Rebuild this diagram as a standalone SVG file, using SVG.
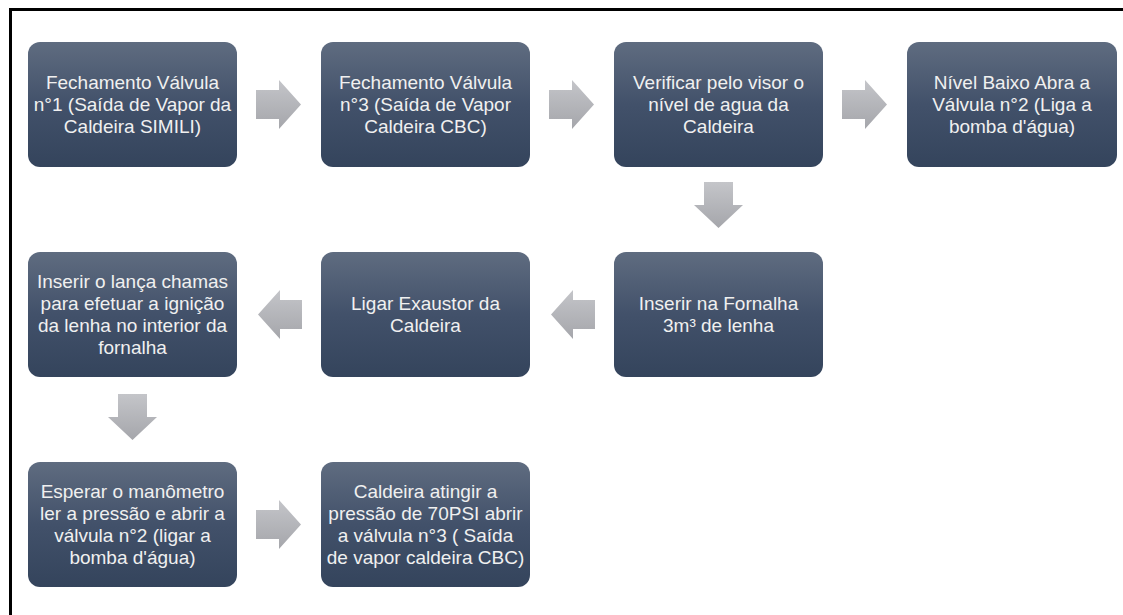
<svg xmlns="http://www.w3.org/2000/svg" width="1123" height="615" viewBox="0 0 1123 615">
<defs>
<linearGradient id="boxg" x1="0" y1="0" x2="0" y2="1">
<stop offset="0" stop-color="#5f6c80"/>
<stop offset="0.5" stop-color="#42516a"/>
<stop offset="1" stop-color="#34445c"/>
</linearGradient>
<linearGradient id="arrg" x1="0" y1="0" x2="0" y2="1">
<stop offset="0" stop-color="#c4c5c9"/>
<stop offset="1" stop-color="#a5a6ab"/>
</linearGradient>
</defs>
<style>
.box{fill:url(#boxg);}
.arr{fill:url(#arrg);}
text{font-family:"Liberation Sans",Arial,sans-serif;font-size:19px;fill:#f0f0f0;text-anchor:middle;}
</style>
<rect x="0" y="0" width="1123" height="615" fill="#ffffff"/>
<path d="M10.5,615 V9.5 H1123" fill="none" stroke="#000000" stroke-width="3"/>

<g id="n1"><rect class="box" x="28" y="42" width="209" height="125" rx="12"/>
<text x="132.5" y="89">Fechamento Válvula</text><text x="132.5" y="111">n°1 (Saída de Vapor da</text><text x="132.5" y="133">Caldeira SIMILI)</text></g>
<g id="n2"><rect class="box" x="321" y="42" width="209" height="125" rx="12"/>
<text x="425.5" y="89">Fechamento Válvula</text><text x="425.5" y="111">n°3 (Saída de Vapor</text><text x="425.5" y="133">Caldeira CBC)</text></g>
<g id="n3"><rect class="box" x="614" y="42" width="209" height="125" rx="12"/>
<text x="718.5" y="89">Verificar pelo visor o</text><text x="718.5" y="111">nível de agua da</text><text x="718.5" y="133">Caldeira</text></g>
<g id="n4"><rect class="box" x="907" y="42" width="210" height="125" rx="12"/>
<text x="1012" y="89">Nível Baixo Abra a</text><text x="1012" y="111">Válvula n°2 (Liga a</text><text x="1012" y="133">bomba d'água)</text></g>

<g id="n5"><rect class="box" x="614" y="252" width="209" height="125" rx="12"/>
<text x="718.5" y="310">Inserir na Fornalha</text><text x="718.5" y="332">3m³ de lenha</text></g>
<g id="n6"><rect class="box" x="321" y="252" width="209" height="125" rx="12"/>
<text x="425.5" y="310">Ligar Exaustor da</text><text x="425.5" y="332">Caldeira</text></g>
<g id="n7"><rect class="box" x="28" y="252" width="209" height="125" rx="12"/>
<text x="132.5" y="288">Inserir o lança chamas</text><text x="132.5" y="310">para efetuar a ignição</text><text x="132.5" y="332">da lenha no interior da</text><text x="132.5" y="354">fornalha</text></g>

<g id="n8"><rect class="box" x="28" y="462" width="209" height="125" rx="12"/>
<text x="132.5" y="498">Esperar o manômetro</text><text x="132.5" y="520">ler a pressão e abrir a</text><text x="132.5" y="542">válvula n°2 (ligar a</text><text x="132.5" y="564">bomba d'água)</text></g>
<g id="n9"><rect class="box" x="321" y="462" width="209" height="125" rx="12"/>
<text x="425.5" y="498">Caldeira atingir a</text><text x="425.5" y="520">pressão de 70PSI abrir</text><text x="425.5" y="542">a válvula n°3 ( Saída</text><text x="425.5" y="564">de vapor caldeira CBC)</text></g>

<g id="connectors">
<path class="arr" d="M256,90 H279 V80 L301,104.5 L279,129 V119 H256 Z"/>
<path class="arr" d="M549,90 H572 V80 L594,104.5 L572,129 V119 H549 Z"/>
<path class="arr" d="M842,90 H865 V80 L887,104.5 L865,129 V119 H842 Z"/>
<path class="arr" d="M704,182 V205 H694 L718.5,228 L743,205 H733 V182 Z"/>
<path class="arr" d="M595,300 H573 V290 L551,314.5 L573,339 V329 H595 Z"/>
<path class="arr" d="M302,300 H280 V290 L258,314.5 L280,339 V329 H302 Z"/>
<path class="arr" d="M118,394 V417 H108 L132.5,440 L157,417 H147 V394 Z"/>
<path class="arr" d="M256,510 H279 V500 L301,524.5 L279,549 V539 H256 Z"/>
</g>
</svg>
